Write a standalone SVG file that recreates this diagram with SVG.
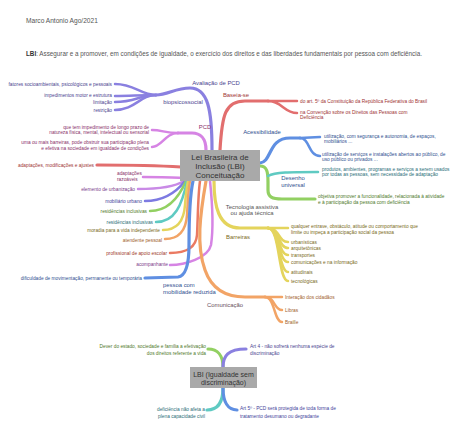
<svg xmlns="http://www.w3.org/2000/svg" width="474" height="432" viewBox="0 0 474 432">
<style>
text{font-family:"Liberation Sans",Arial,sans-serif}
.lf{font-size:4.8px}
.br{font-size:5.9px}
.nd{font-size:8px;fill:#333;text-anchor:middle}
.nd2{font-size:7px;fill:#333;text-anchor:middle}
.e{text-anchor:end}
.m{text-anchor:middle}
path{fill:none;stroke-linecap:round}
.mn{stroke-width:3.2}
.lv{stroke-width:2.5}
.pu{stroke:#8a80e0}.rd{stroke:#e26e6e}.bl{stroke:#5f8fe2}.gr{stroke:#92d062}.tl{stroke:#5fcac2}
.pk{stroke:#d684e4}.ye{stroke:#e4d45c}.or{stroke:#f2a466}.ro{stroke:#ea7a62}.vi{stroke:#7d7ae2}.el{stroke:#c98ae6}
.tpu{fill:#4a3f8f}.trd{fill:#a03434}.tbl{fill:#2f4f8f}.tgr{fill:#4f7a2a}.ttl{fill:#2a6e78}.tpk{fill:#8a2f6a}
.tye{fill:#7a6a20}.tor{fill:#a0602a}.tro{fill:#a03a2a}.tvi{fill:#3f3f9a}.tel{fill:#7a3a8a}
</style>
<rect width="474" height="432" fill="#fff"/>
<g id="header">
<text x="26" y="22.5" font-size="6.6" fill="#555">Marco Antonio Ago/2021</text>
<text x="26" y="56" font-size="6.3" fill="#555"><tspan font-weight="bold" fill="#333">LBI</tspan>: Assegurar e a promover, em condições de igualdade, o exercício dos direitos e das liberdades fundamentais por pessoa com deficiência.</text>
</g>
<g id="connectors">
<path class="mn pu" d="M212 150 C212 110 208 88 190 88 C175 88 168 95 156 95"/>
<path class="lv pu" d="M156 95 C140 95 135 84 115 84"/>
<path class="lv pu" d="M156 95 C140 95 130 96 115 96"/>
<path class="lv pu" d="M156 95 C140 95 135 102 115 102"/>
<path class="lv pu" d="M156 95 C140 95 135 110 115 110"/>
<path class="mn rd" d="M220 150 C222 115 225 101 245 101 L268 101"/>
<path class="lv rd" d="M268 101 L297 101"/>
<path class="lv rd" d="M268 101 C282 101 284 113 297 113"/>
<path class="mn bl" d="M260 163 C272 162 268 138 290 138 L300 138"/>
<path class="lv bl" d="M300 138 L320 137"/>
<path class="lv bl" d="M300 138 C310 138 308 156 320 156"/>
<path class="mn gr" d="M260 166 C267 166 268 172 268 182 L268 190 C268 197 272 199 282 199 L315 199"/>
<path class="lv tl" d="M268 176 C275 172 290 172 318 172"/>
<path class="mn pk" d="M206 150 C206 138 200 133 192 133 L178 133"/>
<path class="lv pk" d="M178 133 C165 133 162 130 152 130"/>
<path class="lv pk" d="M178 133 C165 133 162 147 152 147"/>
<path class="mn rd" d="M97 165 C140 165 165 166 181 167"/>
<path class="lv pk" d="M143 177 C160 177 172 177 182 178"/>
<path class="lv el" d="M138 189 C160 189 176 186 184 181"/>
<path class="lv vi" d="M145 201 C165 201 178 190 185 181"/>
<path class="lv gr" d="M150 211 C170 211 180 195 186 181"/>
<path class="lv tl" d="M156 222 C175 222 182 205 187 181"/>
<path class="lv ye" d="M163 230 C178 230 184 220 185 205 C186 192 187 186 188 181"/>
<path class="lv or" d="M165 239 C180 239 186 230 187 215 C188 200 188 190 190 181"/>
<path class="lv ro" d="M170 253 C185 253 196 248 197 235 C198 215 198 195 200 181"/>
<path class="lv pk" d="M170 265 C185 265 208 258 211 245 C214 225 212 200 210 181"/>
<path class="mn bl" d="M145 278 L178 277 C186 276 189 262 189 245 C189 215 190 195 193 181"/>
<path class="mn ye" d="M214 181 C214 205 218 228 240 228 L268 228"/>
<path class="lv ye" d="M268 228 L288 228"/>
<path class="lv ye" d="M268 228 C280 228 278 242 288 242"/>
<path class="lv ye" d="M268 228 C280 228 278 248 288 248"/>
<path class="lv ye" d="M268 228 C280 228 278 255 288 255"/>
<path class="lv ye" d="M268 228 C280 228 278 262 288 262"/>
<path class="lv ye" d="M268 228 C280 228 278 272 288 272"/>
<path class="lv ye" d="M268 228 C280 228 278 281 288 281"/>
<path class="mn or" d="M206 181 C200 215 196 245 205 270 C212 290 228 297 245 297 L265 297"/>
<path class="lv or" d="M265 297 L282 297"/>
<path class="lv or" d="M265 297 C275 297 274 310 282 310"/>
<path class="lv or" d="M265 297 C275 297 274 322 282 322"/>
<path class="mn gr" d="M208 349 C218 349 223 356 223 367"/>
<path class="mn pu" d="M223 367 C223 356 228 349 246 349"/>
<path class="mn tl" d="M223 388 C223 402 218 410 207 410"/>
<path class="mn bl" d="M223 388 C223 402 228 410 237 410"/>
</g>
<g id="central">
<rect x="180" y="150" width="80" height="31" fill="#a9a9a9"/>
<text class="nd" x="220" y="159.5">Lei Brasileira de</text>
<text class="nd" x="220" y="168.5">Inclusão (LBI)</text>
<text class="nd" x="220" y="177.5">Conceituação</text>
</g>
<g id="avaliacao">
<text class="br m tpu" x="216" y="85">Avaliação de PCD</text>
<text class="br m tpu" x="183" y="104">biopsicossocial</text>
<text class="lf e tpu" x="112" y="85.5">fatores socioambientais, psicológicos e pessoais</text>
<text class="lf e tpu" x="112" y="97">impedimentos motor e estrutura</text>
<text class="lf e tpu" x="112" y="103.5">limitação</text>
<text class="lf e tpu" x="112" y="111.5">restrição</text>
</g>
<g id="baseia">
<text class="br m trd" x="236" y="97">Baseia-se</text>
<text class="lf trd" x="300" y="103">do art. 5º da Constituição da República Federativa do Brasil</text>
<text class="lf trd" x="300" y="113.5">na Convenção sobre os Direitos das Pessoas com</text>
<text class="lf trd" x="300" y="119">Deficiência</text>
</g>
<g id="acessibilidade">
<text class="br m tbl" x="262" y="133.5">Acessibilidade</text>
<text class="lf tbl" x="324" y="137.5">utilização, com segurança e autonomia, de espaços,</text>
<text class="lf tbl" x="324" y="143">mobiliários ...</text>
<text class="lf tbl" x="322" y="155.5">utilização de serviços e instalações abertos ao público, de</text>
<text class="lf tbl" x="322" y="160.5">uso público ou privados ...</text>
</g>
<g id="desenho">
<text class="br m tbl" x="293" y="180">Desenho</text>
<text class="br m tbl" x="293" y="186.5">universal</text>
<text class="lf ttl" x="322" y="170.5">produtos, ambientes, programas e serviços a serem usados</text>
<text class="lf ttl" x="322" y="176">por todas as pessoas, sem necessidade de adaptação</text>
<text class="lf tgr" x="318" y="197.5">objetiva promover a funcionalidade, relacionada à atividade</text>
<text class="lf tgr" x="318" y="203.5">e à participação da pessoa com deficiência</text>
</g>
<g id="pcd">
<text class="br m tpk" x="205" y="129">PCD</text>
<text class="lf e tpk" x="149" y="128.5">que tem impedimento de longo prazo de</text>
<text class="lf e tpk" x="149" y="134">natureza física, mental, intelectual ou sensorial</text>
<text class="lf e tpk" x="149" y="144">uma ou mais barreiras, pode obstruir sua participação plena</text>
<text class="lf e tpk" x="149" y="150">e efetiva na sociedade em igualdade de condições</text>
</g>
<g id="termos">
<text class="lf e trd" x="94" y="166.5">adaptações, modificações e ajustes</text>
<text class="lf tpk" x="117" y="174.5">adaptações</text>
<text class="lf tpk" x="117" y="180.5">razoáveis</text>
<text class="lf e tel" x="135" y="190.5">elemento de urbanização</text>
<text class="lf e tvi" x="142" y="203">mobiliário urbano</text>
<text class="lf e tgr" x="147" y="212.5">residências inclusivas</text>
<text class="lf e ttl" x="153" y="223.5">residências inclusivas</text>
<text class="lf e tye" x="160" y="231.5">moradia para a vida independente</text>
<text class="lf e tor" x="162" y="241.5">atendente pessoal</text>
<text class="lf e tro" x="167" y="255">profissional de apoio escolar</text>
<text class="lf e tel" x="168" y="266">acompanhante</text>
<text class="lf e tbl" x="142" y="279.5">dificuldade de movimentação, permanente ou temporária</text>
<text class="br tbl" x="163" y="287">pessoa com</text>
<text class="br tbl" x="163" y="294">mobilidade reduzida</text>
</g>
<g id="tecnologia">
<text class="br m" fill="#555" x="252" y="208.5">Tecnologia assistiva</text>
<text class="br m" fill="#555" x="252" y="215">ou ajuda técnica</text>
</g>
<g id="barreiras">
<text class="br tye" x="226" y="238.5">Barreiras</text>
<text class="lf tye" x="291" y="227.5">qualquer entrave, obstáculo, atitude ou comportamento que</text>
<text class="lf tye" x="291" y="233.5">limite ou impeça a participação social da pessoa</text>
<text class="lf tye" x="291" y="243.5">urbanísticas</text>
<text class="lf tye" x="291" y="249.5">arquitetônicas</text>
<text class="lf tye" x="291" y="256.5">transportes</text>
<text class="lf tye" x="291" y="263.5">comunicações e na informação</text>
<text class="lf tye" x="291" y="273.5">atitudinais</text>
<text class="lf tye" x="291" y="282.5">tecnológicas</text>
</g>
<g id="comunicacao">
<text class="br m" fill="#6a5060" x="225" y="306.5">Comunicação</text>
<text class="lf tor" x="285" y="299">Interação dos cidadãos</text>
<text class="lf tor" x="285" y="312">Libras</text>
<text class="lf tor" x="285" y="324">Braille</text>
</g>
<g id="igualdade">
<rect x="190" y="367" width="67" height="21" fill="#a9a9a9"/>
<path d="M189 376 L187 378 L189 380" fill="#a9a9a9" stroke="none"/>
<path d="M258 376 L260 378 L258 380" fill="#a9a9a9" stroke="none"/>
<text class="nd2" x="223.5" y="376.5">LBI (Igualdade sem</text>
<text class="nd2" x="223.5" y="384.5">discriminação)</text>
</g>
<g id="dever">
<text class="lf e tgr" x="206" y="347.5">Dever do estado, sociedade e família a efetivação</text>
<text class="lf e tgr" x="206" y="355">dos direitos referente a vida</text>
</g>
<g id="art4">
<text class="lf tpu" x="250" y="347.5">Art 4 - não sofrerá nenhuma espécie de</text>
<text class="lf tpu" x="250" y="355">discriminação</text>
</g>
<g id="capacidade">
<text class="lf e ttl" x="205" y="410.5">deficiência não afeta a</text>
<text class="lf e ttl" x="205" y="418">plena capacidade civil</text>
</g>
<g id="art5">
<text class="lf tvi" x="240" y="410">Art 5º - PCD será protegida de toda forma de</text>
<text class="lf tvi" x="240" y="417.5">tratamento desumano ou degradante</text>
</g>
</svg>
